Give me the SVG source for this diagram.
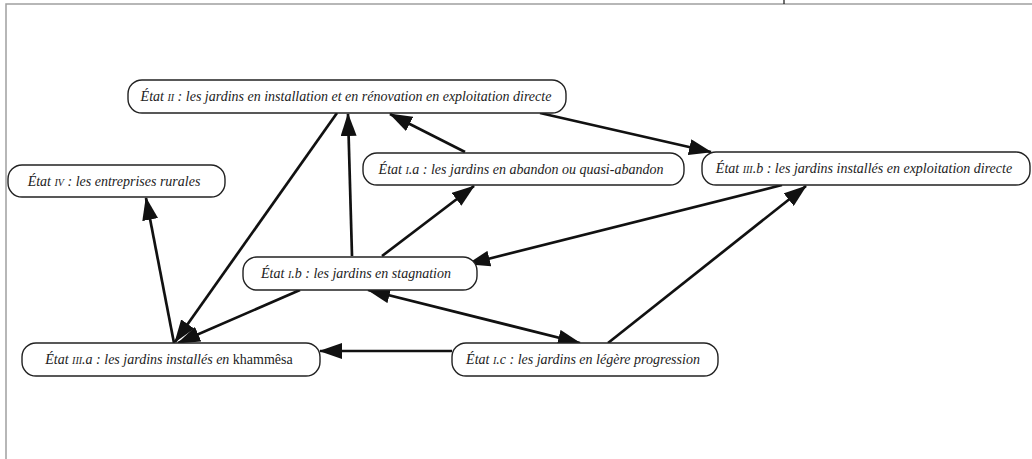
<svg xmlns="http://www.w3.org/2000/svg" width="1032" height="459" viewBox="0 0 1032 459">
<style>
.n rect{fill:#fff;stroke:#222;stroke-width:1.4}
.n text{font-family:'Liberation Serif','Times New Roman','DejaVu Serif',serif;font-style:italic;font-size:14px;fill:#222}
.sc{font-size:10px}
.up{font-style:normal}
.e line{stroke:#111;stroke-width:2.7;fill:none;marker-end:url(#ah)}
.frame{stroke:#a0a0a0;stroke-width:1.5;fill:none}
</style>
<defs>
<marker id="ah" markerUnits="userSpaceOnUse" markerWidth="24" markerHeight="16" refX="22" refY="8" orient="auto-start-reverse" viewBox="0 0 24 16">
<path d="M0,0 L23,8 L0,16 z" fill="#111"/>
</marker>
</defs>
<rect width="1032" height="459" fill="#fff"/>
<path class="frame" d="M6,459 V4 H1032"/>
<line x1="784" y1="0" x2="784" y2="4" stroke="#111" stroke-width="1.2"/>
<g class="e">
<line x1="465" y1="152" x2="390" y2="114"/>
<line x1="540" y1="113" x2="711" y2="152"/>
<line x1="352" y1="256" x2="348" y2="114"/>
<line x1="337" y1="113" x2="175" y2="342"/>
<line x1="174" y1="343" x2="146" y2="198"/>
<line x1="382" y1="256" x2="474" y2="186"/>
<line x1="782" y1="185" x2="468" y2="264"/>
<line x1="300" y1="290" x2="178" y2="343"/>
<line x1="368" y1="290" x2="580" y2="343" marker-start="url(#ah)"/>
<line x1="608" y1="343" x2="806" y2="186"/>
<line x1="452" y1="351" x2="320" y2="351"/>
</g>
<g id="etat-II" class="n"><rect x="128" y="80" width="438" height="33" rx="14"/><text x="346" y="101" text-anchor="middle">État <tspan class="sc">II</tspan> : les jardins en installation et en rénovation en exploitation directe</text></g>
<g id="etat-IV" class="n"><rect x="8" y="165" width="217" height="32" rx="14"/><text x="114" y="186" text-anchor="middle">État <tspan class="sc">IV</tspan> : les entreprises rurales</text></g>
<g id="etat-Ia" class="n"><rect x="363" y="153" width="321" height="32" rx="14"/><text x="521" y="174" text-anchor="middle">État <tspan class="sc">I</tspan>.a : les jardins en abandon ou quasi-abandon</text></g>
<g id="etat-IIIb" class="n"><rect x="702" y="152" width="328" height="33" rx="14"/><text x="864" y="173" text-anchor="middle">État <tspan class="sc">III</tspan>.b : les jardins installés en exploitation directe</text></g>
<g id="etat-Ib" class="n"><rect x="243" y="257" width="234" height="33" rx="14"/><text x="356" y="278" text-anchor="middle">État <tspan class="sc">I</tspan>.b : les jardins en stagnation</text></g>
<g id="etat-IIIa" class="n"><rect x="22" y="343" width="298" height="33" rx="14"/><text x="169" y="364" text-anchor="middle">État <tspan class="sc">III</tspan>.a : les jardins installés en <tspan class="up">khammêsa</tspan></text></g>
<g id="etat-Ic" class="n"><rect x="452" y="343" width="266" height="33" rx="14"/><text x="583" y="364" text-anchor="middle">État <tspan class="sc">I</tspan>.c : les jardins en légère progression</text></g>
</svg>
